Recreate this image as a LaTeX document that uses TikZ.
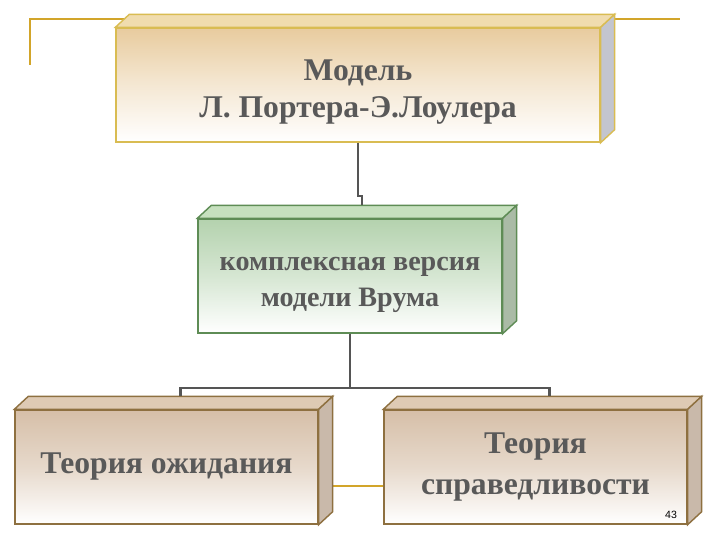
\documentclass[tikz,border=0pt]{standalone}
\usepackage{fontspec}
\setmainfont{Liberation Serif}
\newfontfamily\numfont{Liberation Sans}
\usetikzlibrary{calc}
\definecolor{goldline}{HTML}{D2A52A}
\definecolor{textgrey}{HTML}{595959}
\definecolor{conngrey}{HTML}{555555}
\definecolor{tanfront}{HTML}{E8CB9E}
\definecolor{tantop}{HTML}{F0DCAE}
\definecolor{tanside}{HTML}{C3C5CF}
\definecolor{tanedge}{HTML}{D9BC52}
\definecolor{greenfront}{HTML}{B4D2AE}
\definecolor{greentop}{HTML}{C6E0BE}
\definecolor{greenside}{HTML}{AABBA6}
\definecolor{greenedge}{HTML}{5E8C55}
\definecolor{rosefront}{HTML}{D6BFA8}
\definecolor{rosetop}{HTML}{DECAB4}
\definecolor{roseside}{HTML}{C9B9AA}
\definecolor{roseedge}{HTML}{8E7040}
\tikzset{every picture/.style={line width=0.8pt}}
\tikzset{
  frontbox/.style={draw=#1, rectangle, minimum height=2.28cm, align=center,
    text=textgrey, font=\bfseries\fontsize{18}{21}\selectfont},
  conn/.style={draw=conngrey, line width=1.3pt},
  deco/.style={draw=goldline, line width=1.3pt}
}
% top and right faces of a box
\newcommand{\boxfaces}[4]{%
  \filldraw[draw=#4, fill=#2] (#1.north west) -- ++(14,-13)
    -- ($(#1.north east)+(14,-13)$) -- (#1.north east) -- cycle;
  \filldraw[draw=#4, fill=#3] (#1.north east) -- ++(14,-13)
    -- ($(#1.south east)+(14,-13)$) -- (#1.south east) -- cycle;
}

\begin{document}
\begin{tikzpicture}[x=0.02cm, y=-0.02cm]
    \useasboundingbox (0,0) rectangle (720,540);
    % Frame lines behind the boxes
    \draw[deco] (30,65) -- (30,19) -- (680,19);
    \draw[deco] (300,486) -- (400,486);
    % Boxes
    \node[frontbox=tanedge, minimum width=9.68cm, top color=tanfront, bottom color=white,
      middle color=tanfront!45] (model) at (358,85) {\rule{0pt}{20pt}Модель\\Л. Портера-Э.Лоулера};
    \boxfaces{model}{tantop}{tanside}{tanedge}
    \node[frontbox=greenedge, minimum width=6.08cm, top color=greenfront, bottom color=white,
      middle color=greenfront!55, font=\bfseries\fontsize{16}{20.5}\selectfont]
      (vroom) at (350,276) {\rule{0pt}{18pt}комплексная версия\\модели Врума};
    \boxfaces{vroom}{greentop}{greenside}{greenedge}
    \node[frontbox=roseedge, minimum width=6.06cm, top color=rosefront, bottom color=white,
      middle color=rosefront!60] (expect) at (166.5,467) {Теория ожидания};
    \boxfaces{expect}{rosetop}{roseside}{roseedge}
    \node[frontbox=roseedge, minimum width=6.06cm, top color=rosefront, bottom color=white,
      middle color=rosefront!60, font=\bfseries\fontsize{18}{23}\selectfont]
      (justice) at (535.5,467) {Теория\\справедливости};
    \boxfaces{justice}{rosetop}{roseside}{roseedge}
    % Connectors
    \draw[conn] (model.south) -- ++(0,53) -| ($(vroom.north)+(12,-13)$);
    \draw[conn] (vroom.south) -- ++(0,54) coordinate (split);
    \draw[conn] (split) -| ($(expect.north)+(14,-13)$);
    \draw[conn] (split) -| ($(justice.north)+(14,-13)$);
    % Slide number
    \node[font=\numfont\fontsize{6}{7}\selectfont, text=black] (pagenum) at (671,515) {43};
\end{tikzpicture}
\end{document}
